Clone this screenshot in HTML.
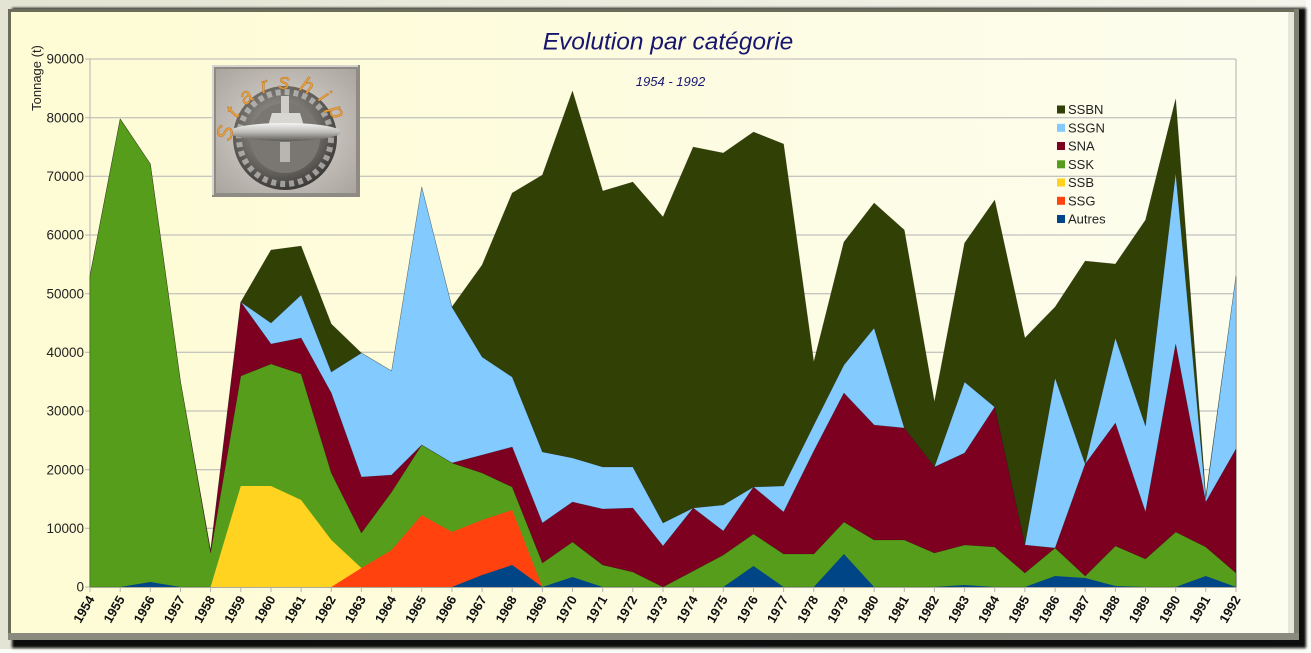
<!DOCTYPE html>
<html><head><meta charset="utf-8"><style>
html,body{margin:0;padding:0;width:1311px;height:653px;overflow:hidden;background:#f6f6ec;}
svg{display:block;font-family:"Liberation Sans",Arial,sans-serif;}
</style></head><body>
<svg width="1311" height="653" viewBox="0 0 1311 653" xmlns="http://www.w3.org/2000/svg">
<defs>
<linearGradient id="cream" x1="0" y1="0" x2="1" y2="0">
<stop offset="0" stop-color="#fefcd4"/><stop offset="0.5" stop-color="#fdfce0"/><stop offset="1" stop-color="#fdfdef"/>
</linearGradient>
<linearGradient id="outer" x1="0" y1="0" x2="1" y2="0">
<stop offset="0" stop-color="#e4e4d4"/><stop offset="1" stop-color="#f4f4ea"/>
</linearGradient>
<filter id="blur" x="-5%" y="-5%" width="110%" height="110%"><feGaussianBlur stdDeviation="1.2"/></filter>
<radialGradient id="photo" cx="0.5" cy="0.5" r="0.7">
<stop offset="0" stop-color="#dedad4"/><stop offset="1" stop-color="#aaa59e"/>
</radialGradient>
<radialGradient id="badge" cx="0.45" cy="0.4" r="0.6">
<stop offset="0" stop-color="#a8a6a2"/><stop offset="0.7" stop-color="#66635f"/><stop offset="1" stop-color="#3e3c3a"/>
</radialGradient>
<linearGradient id="sub" x1="0" y1="0" x2="0" y2="1">
<stop offset="0" stop-color="#f4f4f2"/><stop offset="0.5" stop-color="#bdbcb8"/><stop offset="1" stop-color="#5e5c58"/>
</linearGradient>
<path id="arc" d="M 232,142 A 53,53 0 0 1 338,142"/>
</defs>

<rect x="0" y="0" width="1311" height="653" fill="url(#outer)"/>
<rect x="1306" y="0" width="5" height="653" fill="#fbfbf8"/>
<rect x="0" y="649" width="1311" height="4" fill="#fbfbf8"/>
<rect x="12" y="8" width="1294" height="640" fill="#0c0c0c" filter="url(#blur)"/>
<rect x="8" y="9" width="1291" height="631" fill="#7f7f72"/>
<rect x="11" y="12" width="1283" height="621" fill="#e6e6da"/>
<rect x="11" y="12" width="1277" height="621" fill="url(#cream)"/>
<rect x="8" y="9" width="1286" height="3" fill="#6c6c5a"/>
<rect x="8" y="9" width="3" height="626" fill="#6c6c5a"/>
<rect x="8" y="633" width="1291" height="7" fill="#8a8a7e"/>

<g stroke="#b3b3b3" stroke-width="1">
<line x1="85" y1="59" x2="1236" y2="59"/>
<line x1="85" y1="117.7" x2="1236" y2="117.7"/>
<line x1="85" y1="176.3" x2="1236" y2="176.3"/>
<line x1="85" y1="235" x2="1236" y2="235"/>
<line x1="85" y1="293.7" x2="1236" y2="293.7"/>
<line x1="85" y1="352.3" x2="1236" y2="352.3"/>
<line x1="85" y1="411" x2="1236" y2="411"/>
<line x1="85" y1="469.7" x2="1236" y2="469.7"/>
<line x1="85" y1="528.3" x2="1236" y2="528.3"/>
<line x1="85" y1="587" x2="1236" y2="587"/>
<line x1="90" y1="59" x2="90" y2="587"/>
<line x1="1236" y1="59" x2="1236" y2="592"/>
</g>

<g stroke="#000" stroke-opacity="0.3" stroke-width="0.6" stroke-linejoin="round">
<polygon fill="#314004" points="90,587 90,276 120.2,119 150.3,164 180.5,382 210.6,551 240.8,302 271,250 301.1,246 331.3,324 361.4,353 391.6,371 421.7,187 451.9,307 482.1,265 512.2,193 542.4,175 572.5,91 602.7,191 632.8,182 663,217 693.2,147 723.3,153 753.5,132 783.6,144 813.8,362 843.9,242 874.1,203 904.3,230 934.4,402 964.6,243 994.7,200 1024.9,338 1055.1,307 1085.2,261 1115.4,264 1145.5,220 1175.7,99 1205.8,496 1236,276 1236,587"/>
<polygon fill="#83caff" points="90,587 90,276 120.2,119 150.3,164 180.5,382 210.6,551 240.8,302 271,323 301.1,295 331.3,372 361.4,353 391.6,371 421.7,187 451.9,307 482.1,357 512.2,377 542.4,452 572.5,458 602.7,467 632.8,467 663,523 693.2,508 723.3,505 753.5,487 783.6,486 813.8,425 843.9,365 874.1,328 904.3,428 934.4,467 964.6,382 994.7,407 1024.9,545 1055.1,378 1085.2,464 1115.4,338 1145.5,426 1175.7,173 1205.8,499 1236,276 1236,587"/>
<polygon fill="#7e0021" points="90,587 90,276 120.2,119 150.3,164 180.5,382 210.6,551 240.8,302 271,344 301.1,338 331.3,393 361.4,477 391.6,475 421.7,445 451.9,463 482.1,455 512.2,447 542.4,523 572.5,502 602.7,509 632.8,508 663,546 693.2,508 723.3,531 753.5,487 783.6,512 813.8,451 843.9,393 874.1,425 904.3,428 934.4,467 964.6,453 994.7,407 1024.9,545 1055.1,548 1085.2,464 1115.4,423 1145.5,512 1175.7,344 1205.8,502 1236,449 1236,587"/>
<polygon fill="#579d1c" points="90,587 90,276 120.2,119 150.3,164 180.5,382 210.6,553 240.8,376 271,364 301.1,374 331.3,473 361.4,533 391.6,492 421.7,445 451.9,463 482.1,473 512.2,487 542.4,563 572.5,542 602.7,565 632.8,572 663,587 693.2,571 723.3,555 753.5,534 783.6,554 813.8,554 843.9,522 874.1,540 904.3,540 934.4,553 964.6,545 994.7,547 1024.9,573 1055.1,548 1085.2,576 1115.4,546 1145.5,559 1175.7,532 1205.8,547 1236,573 1236,587"/>
<polygon fill="#ffd320" stroke="none" points="210.6,587 240.8,486 271,486 301.1,500 331.3,540 361.4,568 361.4,587"/>
<polygon fill="#ff420e" stroke="none" points="331.3,587 361.4,568 391.6,550 421.7,515 451.9,532 482.1,520 512.2,510 542.4,587"/>
<polygon fill="#004586" stroke="none" points="90,587 120.2,587 150.3,582 180.5,587 451.9,587 482.1,575 512.2,565 542.4,587 572.5,577 602.7,587 723.3,587 753.5,566 783.6,587 813.8,587 843.9,554 874.1,587 934.4,587 964.6,585 994.7,587 1024.9,587 1055.1,576 1085.2,578 1115.4,586 1145.5,587 1175.7,587 1205.8,576 1236,587"/>
</g>

<g stroke="#b3b3b3" stroke-width="1">
<line x1="90" y1="587" x2="90" y2="592"/><line x1="120.2" y1="587" x2="120.2" y2="592"/><line x1="150.3" y1="587" x2="150.3" y2="592"/><line x1="180.5" y1="587" x2="180.5" y2="592"/><line x1="210.6" y1="587" x2="210.6" y2="592"/><line x1="240.8" y1="587" x2="240.8" y2="592"/><line x1="271" y1="587" x2="271" y2="592"/><line x1="301.1" y1="587" x2="301.1" y2="592"/><line x1="331.3" y1="587" x2="331.3" y2="592"/><line x1="361.4" y1="587" x2="361.4" y2="592"/><line x1="391.6" y1="587" x2="391.6" y2="592"/><line x1="421.7" y1="587" x2="421.7" y2="592"/><line x1="451.9" y1="587" x2="451.9" y2="592"/><line x1="482.1" y1="587" x2="482.1" y2="592"/><line x1="512.2" y1="587" x2="512.2" y2="592"/><line x1="542.4" y1="587" x2="542.4" y2="592"/><line x1="572.5" y1="587" x2="572.5" y2="592"/><line x1="602.7" y1="587" x2="602.7" y2="592"/><line x1="632.8" y1="587" x2="632.8" y2="592"/><line x1="663" y1="587" x2="663" y2="592"/><line x1="693.2" y1="587" x2="693.2" y2="592"/><line x1="723.3" y1="587" x2="723.3" y2="592"/><line x1="753.5" y1="587" x2="753.5" y2="592"/><line x1="783.6" y1="587" x2="783.6" y2="592"/><line x1="813.8" y1="587" x2="813.8" y2="592"/><line x1="843.9" y1="587" x2="843.9" y2="592"/><line x1="874.1" y1="587" x2="874.1" y2="592"/><line x1="904.3" y1="587" x2="904.3" y2="592"/><line x1="934.4" y1="587" x2="934.4" y2="592"/><line x1="964.6" y1="587" x2="964.6" y2="592"/><line x1="994.7" y1="587" x2="994.7" y2="592"/><line x1="1024.9" y1="587" x2="1024.9" y2="592"/><line x1="1055.1" y1="587" x2="1055.1" y2="592"/><line x1="1085.2" y1="587" x2="1085.2" y2="592"/><line x1="1115.4" y1="587" x2="1115.4" y2="592"/><line x1="1145.5" y1="587" x2="1145.5" y2="592"/><line x1="1175.7" y1="587" x2="1175.7" y2="592"/><line x1="1205.8" y1="587" x2="1205.8" y2="592"/>
</g>

<g font-size="13.5" fill="#222" text-anchor="end">
<text x="84" y="63.7">90000</text>
<text x="84" y="122.4">80000</text>
<text x="84" y="181">70000</text>
<text x="84" y="239.7">60000</text>
<text x="84" y="298.4">50000</text>
<text x="84" y="357">40000</text>
<text x="84" y="415.7">30000</text>
<text x="84" y="474.4">20000</text>
<text x="84" y="533">10000</text>
<text x="84" y="591.7">0</text>
</g>
<text transform="translate(41,78) rotate(-90)" font-size="13" fill="#222" text-anchor="middle">Tonnage (t)</text>

<g font-size="13" font-weight="bold" fill="#111" text-anchor="end">
<text transform="translate(95,599) rotate(-60)">1954</text>
<text transform="translate(125.2,599) rotate(-60)">1955</text>
<text transform="translate(155.3,599) rotate(-60)">1956</text>
<text transform="translate(185.5,599) rotate(-60)">1957</text>
<text transform="translate(215.6,599) rotate(-60)">1958</text>
<text transform="translate(245.8,599) rotate(-60)">1959</text>
<text transform="translate(276,599) rotate(-60)">1960</text>
<text transform="translate(306.1,599) rotate(-60)">1961</text>
<text transform="translate(336.3,599) rotate(-60)">1962</text>
<text transform="translate(366.4,599) rotate(-60)">1963</text>
<text transform="translate(396.6,599) rotate(-60)">1964</text>
<text transform="translate(426.7,599) rotate(-60)">1965</text>
<text transform="translate(456.9,599) rotate(-60)">1966</text>
<text transform="translate(487.1,599) rotate(-60)">1967</text>
<text transform="translate(517.2,599) rotate(-60)">1968</text>
<text transform="translate(547.4,599) rotate(-60)">1969</text>
<text transform="translate(577.5,599) rotate(-60)">1970</text>
<text transform="translate(607.7,599) rotate(-60)">1971</text>
<text transform="translate(637.8,599) rotate(-60)">1972</text>
<text transform="translate(668,599) rotate(-60)">1973</text>
<text transform="translate(698.2,599) rotate(-60)">1974</text>
<text transform="translate(728.3,599) rotate(-60)">1975</text>
<text transform="translate(758.5,599) rotate(-60)">1976</text>
<text transform="translate(788.6,599) rotate(-60)">1977</text>
<text transform="translate(818.8,599) rotate(-60)">1978</text>
<text transform="translate(848.9,599) rotate(-60)">1979</text>
<text transform="translate(879.1,599) rotate(-60)">1980</text>
<text transform="translate(909.3,599) rotate(-60)">1981</text>
<text transform="translate(939.4,599) rotate(-60)">1982</text>
<text transform="translate(969.6,599) rotate(-60)">1983</text>
<text transform="translate(999.7,599) rotate(-60)">1984</text>
<text transform="translate(1029.9,599) rotate(-60)">1985</text>
<text transform="translate(1060.1,599) rotate(-60)">1986</text>
<text transform="translate(1090.2,599) rotate(-60)">1987</text>
<text transform="translate(1120.4,599) rotate(-60)">1988</text>
<text transform="translate(1150.5,599) rotate(-60)">1989</text>
<text transform="translate(1180.7,599) rotate(-60)">1990</text>
<text transform="translate(1210.8,599) rotate(-60)">1991</text>
<text transform="translate(1241,599) rotate(-60)">1992</text>
</g>

<text x="668" y="49.5" font-size="24.5" font-style="italic" fill="#16166e" text-anchor="middle">Evolution par catégorie</text>
<text x="670.5" y="86" font-size="13" font-style="italic" fill="#16166e" text-anchor="middle">1954 - 1992</text>

<g font-size="13" fill="#222">
<rect x="1057" y="105.5" width="8" height="8" fill="#314004"/><text x="1068" y="114">SSBN</text>
<rect x="1057" y="123.8" width="8" height="8" fill="#83caff"/><text x="1068" y="132.3">SSGN</text>
<rect x="1057" y="142" width="8" height="8" fill="#7e0021"/><text x="1068" y="150.5">SNA</text>
<rect x="1057" y="160.3" width="8" height="8" fill="#579d1c"/><text x="1068" y="168.8">SSK</text>
<rect x="1057" y="178.5" width="8" height="8" fill="#ffd320"/><text x="1068" y="187">SSB</text>
<rect x="1057" y="196.8" width="8" height="8" fill="#ff420e"/><text x="1068" y="205.3">SSG</text>
<rect x="1057" y="215" width="8" height="8" fill="#004586"/><text x="1068" y="223.5">Autres</text>
</g>

<g>
<rect x="212" y="65" width="148" height="132" fill="#8e8a84"/>
<rect x="212" y="65" width="146" height="2" fill="#d6d2cc"/>
<rect x="212" y="65" width="2" height="130" fill="#d6d2cc"/>
<rect x="216" y="69" width="140" height="124" fill="url(#photo)"/>
<circle cx="285" cy="138" r="52" fill="url(#badge)"/>
<circle cx="285" cy="138" r="46" fill="none" stroke="#c8c6c2" stroke-width="6" stroke-dasharray="5 4" opacity="0.7"/>
<circle cx="285" cy="138" r="35" fill="#7a7773"/>
<rect x="281" y="96" width="8" height="26" fill="#cfcdc8"/>
<path d="M 268,126 L 272,113 L 300,113 L 304,126 Z" fill="#d9d7d2"/>
<ellipse cx="285" cy="132" rx="56" ry="9" fill="url(#sub)"/>
<rect x="280" y="142" width="10" height="20" fill="#b8b6b1"/>
<text font-size="22" font-style="italic" fill="#e8a040" stroke="#b8701a" stroke-width="0.4" letter-spacing="9"><textPath href="#arc">Starship</textPath></text>
</g>
</svg>
</body></html>
